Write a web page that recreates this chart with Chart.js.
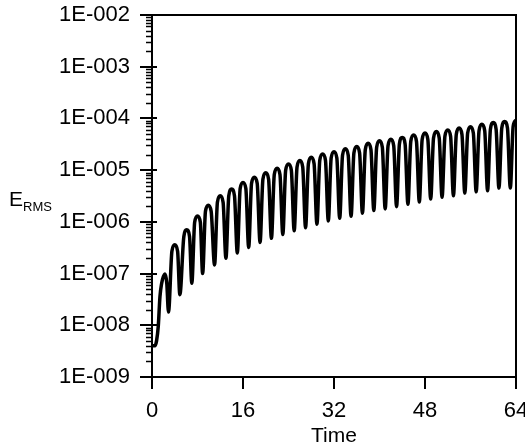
<!DOCTYPE html>
<html>
<head>
<meta charset="utf-8">
<script src="https://cdn.jsdelivr.net/npm/chart.js@4.4.1/dist/chart.umd.min.js"></script>
<style>
  html, body { margin: 0; padding: 0; background: #fff; }
  #wrap { width: 525px; height: 448px; }
</style>
</head>
<body>
<div id="wrap"><canvas id="ermsChart" width="525" height="448"></canvas></div>
<script>
// E_RMS history (peaks, shoulders and troughs of each cycle)
var time = [
  0, 0.5, 0.8, 1.1, 1.4, 1.7, 2.0, 2.3, 2.6, 2.9,
  3.5, 4.0, 4.5, 4.9, 5.6, 6.1, 6.6, 7.0, 7.5, 8.0, 8.5, 8.9,
  9.4, 9.9, 10.4, 11, 11.5, 12, 12.5, 13, 13.5, 14, 14.5, 15,
  15.5, 16, 16.5, 17, 17.5, 18, 18.5, 19, 19.5, 20, 20.5, 21,
  21.5, 22, 22.5, 23, 23.5, 24, 24.5, 25, 25.5, 26, 26.5, 27,
  27.5, 28, 28.5, 29, 29.5, 30, 30.5, 31, 31.5, 32, 32.5, 33,
  33.5, 34, 34.5, 35, 35.5, 36, 36.5, 37, 37.5, 38, 38.5, 39,
  39.5, 40, 40.5, 41, 41.5, 42, 42.5, 43, 43.5, 44, 44.5, 45,
  45.5, 46, 46.5, 47, 47.5, 48, 48.5, 49, 49.5, 50, 50.5, 51,
  51.5, 52, 52.5, 53, 53.5, 54, 54.5, 55, 55.5, 56, 56.5, 57,
  57.5, 58, 58.5, 59, 59.5, 60, 60.5, 61, 61.5, 62, 62.5, 63,
  63.5, 64
];
var erms = [
  4.0e-9, 4.0e-9, 5.0e-9, 9.5e-9, 3.6e-8, 6.5e-8, 8.7e-8, 9.8e-8, 6.5e-8, 1.8e-8,
  2.7e-7, 3.6e-7, 2.7e-7, 3.9e-8, 5.2e-7, 7.0e-7, 5.2e-7, 6.5e-8, 9.8e-7, 1.3e-6, 9.8e-7, 1.0e-7,
  1.6e-6, 2.1e-6, 1.6e-6, 1.47e-7, 2.4e-6, 3.2e-6, 2.4e-6, 1.98e-7, 3.2e-6, 4.3e-6, 3.2e-6, 2.5e-7,
  4.4e-6, 5.8e-6, 4.4e-6, 3.2e-7, 5.5e-6, 7.3e-6, 5.5e-6, 4.0e-7, 6.7e-6, 8.9e-6, 6.7e-6, 4.8e-7,
  8.2e-6, 1.09e-5, 8.2e-6, 5.7e-7, 9.9e-6, 1.32e-5, 9.9e-6, 6.7e-7, 1.15e-5, 1.53e-5, 1.15e-5, 7.7e-7,
  1.33e-5, 1.77e-5, 1.33e-5, 9.0e-7, 1.55e-5, 2.06e-5, 1.55e-5, 1.04e-6, 1.71e-5, 2.28e-5, 1.71e-5, 1.17e-6,
  1.95e-5, 2.6e-5, 1.95e-5, 1.28e-6, 2.14e-5, 2.85e-5, 2.14e-5, 1.47e-6, 2.48e-5, 3.3e-5, 2.48e-5, 1.65e-6,
  2.78e-5, 3.7e-5, 2.78e-5, 1.78e-6, 2.97e-5, 3.96e-5, 2.97e-5, 1.97e-6, 3.2e-5, 4.3e-5, 3.2e-5, 2.19e-6,
  3.6e-5, 4.8e-5, 3.6e-5, 2.42e-6, 3.9e-5, 5.2e-5, 3.9e-5, 2.77e-6, 4.2e-5, 5.6e-5, 4.2e-5, 3.0e-6,
  4.5e-5, 6.0e-5, 4.5e-5, 3.2e-6, 4.9e-5, 6.5e-5, 4.9e-5, 3.6e-6, 5.2e-5, 6.9e-5, 5.2e-5, 3.8e-6,
  5.8e-5, 7.7e-5, 5.8e-5, 4.0e-6, 6.2e-5, 8.3e-5, 6.2e-5, 4.5e-6, 6.5e-5, 8.7e-5, 6.5e-5, 4.5e-6,
  7.0e-5, 9.3e-5
];

var xTickValues = [0, 16, 32, 48, 64];
var yTickValues = [1e-9, 1e-8, 1e-7, 1e-6, 1e-5, 1e-4, 1e-3, 1e-2];
var yTickLabels = ['1E-009', '1E-008', '1E-007', '1E-006', '1E-005', '1E-004', '1E-003', '1E-002'];

var FONT = "'Liberation Sans', Arial, sans-serif";

// frame, tick marks and axis titles, all placed through the chart scales
var frameAxes = {
  id: 'frameAxes',
  afterDatasetsDraw: function (chart) {
    var ctx = chart.ctx;
    var a = chart.chartArea;
    var xs = chart.scales.x;
    var ys = chart.scales.y;

    ctx.save();
    ctx.strokeStyle = '#000';
    ctx.lineWidth = 2;
    ctx.lineCap = 'butt';
    ctx.beginPath();
    ctx.rect(a.left, a.top, a.right - a.left, a.bottom - a.top);
    ctx.stroke();

    // y minor ticks (2..9 per decade)
    ctx.lineWidth = 1.5;
    ctx.beginPath();
    for (var d = 0; d < yTickValues.length - 1; d++) {
      for (var k = 2; k <= 9; k++) {
        var py = Math.round(ys.getPixelForValue(yTickValues[d] * k)) + 0.5;
        ctx.moveTo(a.left - 6, py);
        ctx.lineTo(a.left, py);
      }
    }
    ctx.stroke();

    // y major ticks cross the axis
    ctx.lineWidth = 2;
    ctx.beginPath();
    yTickValues.forEach(function (v) {
      var py = Math.round(ys.getPixelForValue(v));
      ctx.moveTo(a.left - 12, py);
      ctx.lineTo(a.left + 5, py);
    });
    // x major ticks point down
    xTickValues.forEach(function (v) {
      var px = Math.round(xs.getPixelForValue(v));
      ctx.moveTo(px, a.bottom);
      ctx.lineTo(px, a.bottom + 12);
    });
    ctx.stroke();

    // axis titles
    ctx.fillStyle = '#000';
    ctx.textBaseline = 'alphabetic';
    ctx.textAlign = 'left';
    ctx.font = '21px ' + FONT;
    ctx.fillText('E', 9, 206);
    var eW = ctx.measureText('E').width;
    ctx.font = '13px ' + FONT;
    ctx.fillText('RMS', 9 + eW, 211);

    ctx.textAlign = 'center';
    ctx.font = '21px ' + FONT;
    ctx.fillText('Time', xs.getPixelForValue(32), 442);
    ctx.restore();
  }
};

new Chart(document.getElementById('ermsChart').getContext('2d'), {
  type: 'line',
  data: {
    datasets: [{
      data: time.map(function (t, i) { return { x: t, y: erms[i] }; }),
      borderColor: '#000',
      borderWidth: 3.5,
      pointRadius: 0,
      fill: false,
      cubicInterpolationMode: 'monotone'
    }]
  },
  options: {
    responsive: false,
    animation: false,
    devicePixelRatio: 1,
    layout: { padding: { top: 15, right: 9, left: 0, bottom: 0 } },
    plugins: {
      legend: { display: false },
      tooltip: { enabled: false }
    },
    scales: {
      x: {
        type: 'linear',
        min: 0,
        max: 64,
        grid: { display: false, drawTicks: false },
        border: { display: false },
        afterBuildTicks: function (scale) {
          scale.ticks = xTickValues.map(function (v) { return { value: v }; });
        },
        afterFit: function (scale) {
          scale.height = 71;
          scale.paddingLeft = 0;
          scale.paddingRight = 0;
        },
        ticks: {
          autoSkip: false,
          maxRotation: 0,
          padding: 21,
          color: '#000',
          font: { family: FONT, size: 22 },
          callback: function (v) { return String(v); }
        }
      },
      y: {
        type: 'logarithmic',
        min: 1e-9,
        max: 1e-2,
        grid: { display: false, drawTicks: false },
        border: { display: false },
        afterBuildTicks: function (scale) {
          scale.ticks = yTickValues.map(function (v) { return { value: v, major: true }; });
        },
        afterFit: function (scale) {
          scale.width = 152;
          scale.paddingTop = 0;
          scale.paddingBottom = 0;
        },
        ticks: {
          autoSkip: false,
          padding: 22,
          color: '#000',
          font: { family: FONT, size: 22 },
          callback: function (v) {
            var i = yTickValues.indexOf(v);
            return i >= 0 ? yTickLabels[i] : '';
          }
        }
      }
    }
  },
  plugins: [frameAxes]
});
</script>
</body>
</html>
